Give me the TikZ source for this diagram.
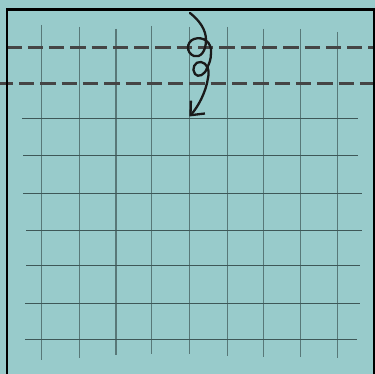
\documentclass[tikz,border=0pt]{standalone}
\usetikzlibrary{arrows.meta}
\definecolor{bg}{HTML}{98CBCB}
\definecolor{vline}{HTML}{587878}
\definecolor{hline}{HTML}{3E5858}
\definecolor{dash}{HTML}{454545}
\definecolor{ink}{HTML}{1A1A1A}
\tikzset{
  vgrid/.style={draw=vline, line width=1.1pt},
  hgrid/.style={draw=hline, line width=0.9pt},
  guide/.style={draw=dash, line width=3pt, dash pattern=on 15.3pt off 6pt},
  frame/.style={draw=black, line width=2.5pt},
  curl/.style={draw=ink, line width=2.3pt, line cap=round,
    -{Straight Barb[length=11pt,width=19pt,line width=2.3pt]}}
}
\begin{document}
\begin{tikzpicture}[x=1pt,y=-1pt]
\useasboundingbox (0,0) rectangle (375,374);
\fill[bg] (0,0) rectangle (375,374);
\begin{scope}
\clip (0,0) rectangle (375,374);
% vertical grid lines
\foreach \x/\t/\b in {41.7/25/360, 79.3/27/358, 116/29/355, 151.7/26/354, 189.3/27/354,
  227.7/27/356, 263.3/29/357, 300.7/29/357, 337.3/32/358}
  \draw[vgrid] (\x,\t) -- (\x,\b);
% horizontal grid lines
\foreach \y/\l/\r in {118.3/22/358.3, 155/23/358.3, 193.3/23/361.7, 230/26/361.7,
  265/26/360, 303.3/25/360, 339/25/356.7}
  \draw[hgrid] (\l,\y) -- (\r,\y);
% dashed guide lines
\draw[guide] (6.3,47.7) -- (380,47.7);
\draw[guide] (-2.3,84) -- (380,84);
% frame
\draw[frame] (7,380) -- (7,9.7) -- (374.5,9.7) -- (374.5,380);
% curly arrow
\coordinate (s) at (190,13);
\coordinate (tip) at (189.3,116.5);
\draw[curl] (s) .. controls (200,21) and (206,30) .. (206,40)
  .. controls (206,52) and (200,58) .. (194,56)
  .. controls (186,53) and (186,42) .. (194,39)
  .. controls (203,36) and (212,42) .. (211,53)
  .. controls (211,60) and (209,64) .. (207,68)
  .. controls (205,75) and (198,78) .. (195,74)
  .. controls (191,69) and (195,61) .. (201,62)
  .. controls (207,63) and (210,70) .. (208,78)
  .. controls (206,92) and (198,107) .. (tip);
\end{scope}
\end{tikzpicture}
\end{document}
